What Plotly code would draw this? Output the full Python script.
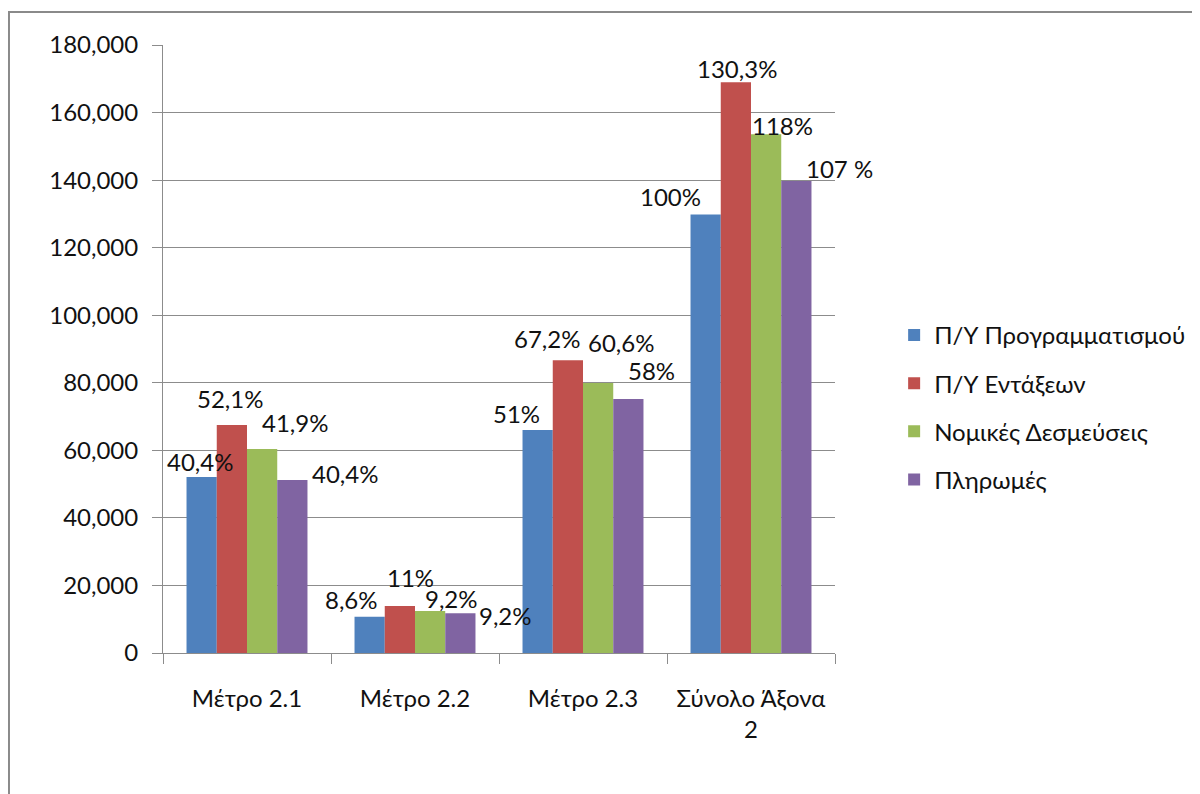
import plotly.graph_objects as go

# categories and series
categories = ["Μέτρο 2.1", "Μέτρο 2.2", "Μέτρο 2.3", "Σύνολο Άξονα<br>2"]
series_names = ["Π/Υ Προγραμματισμού", "Π/Υ Εντάξεων", "Νομικές Δεσμεύσεις", "Πληρωμές"]

py_programmatismou = [52100, 10700, 66000, 129800]
py_entaxeon = [67500, 13900, 86700, 169000]
nomikes_desmefseis = [60400, 12400, 79900, 153600]
pliromes = [51200, 11800, 75200, 139700]

lbl_programmatismou = ["40,4%", "8,6%", "51%", "100%"]
lbl_entaxeon = ["52,1%", "11%", "67,2%", "130,3%"]
lbl_nomikes = ["41,9%", "9,2%", "60,6%", "118%"]
lbl_pliromes = ["40,4%", "9,2%", "58%", "107 %"]

y_ticks = [0, 20000, 40000, 60000, 80000, 100000, 120000, 140000, 160000, 180000]

colors = ["#4F81BD", "#C0504D", "#9BBB59", "#8064A2"]
values = [py_programmatismou, py_entaxeon, nomikes_desmefseis, pliromes]
labels = [lbl_programmatismou, lbl_entaxeon, lbl_nomikes, lbl_pliromes]

# hand placed label nudges (px): [series][category] -> (dx, dy)
nudges = [
    [(-2, 16), (-18, 17), (-21, 17), (-35, 18)],
    [(-2, 27), (11, 29), (-21, 22), (1, 14)],
    [(33, 26), (21, 13), (23, 41), (16, 9)],
    [(53, 7), (45, -2), (23, 28), (43, 13)],
]

FONT = "Lato, 'Noto Sans', sans-serif"
FS = 24
bargap = 0.28

fig = go.Figure()
for name, vals, col in zip(series_names, values, colors):
    fig.add_trace(go.Bar(x=categories, y=vals, name=name, marker_color=col,
                         marker_line_width=0, legendgroup=name))

bw = (1 - bargap) / len(values)
for si, (vals, lbls) in enumerate(zip(values, labels)):
    for ci, (v, t) in enumerate(zip(vals, lbls)):
        dx, dy = nudges[si][ci]
        fig.add_annotation(x=ci + (si - 1.5) * bw, y=v, text=t, showarrow=False,
                           xshift=dx, yshift=dy, xanchor="center", yanchor="middle",
                           font=dict(family=FONT, size=FS, color="#111111"))

# chart border (only left/top visible in the picture)
fig.add_shape(type="rect", xref="paper", yref="paper",
              x0=-0.2292, x1=2, y0=-1, y1=1.0543,
              line=dict(color="#8a8a8a", width=2), layer="below")

fig.update_layout(
    width=1200, height=794,
    margin=dict(l=155, r=373, t=37, b=149),
    paper_bgcolor="white", plot_bgcolor="white",
    barmode="group", bargap=bargap, bargroupgap=0,
    font=dict(family=FONT, size=FS, color="#111111"),
    showlegend=True,
    legend=dict(x=1.088, xanchor="left", y=0.404, yanchor="middle",
                traceorder="grouped", tracegroupgap=14,
                font=dict(family=FONT, size=FS, color="#111111")),
)
fig.update_yaxes(range=[0, 180000], tickvals=y_ticks, tickformat=",",
                 showgrid=True, gridcolor="#8c8c8c", gridwidth=1,
                 showline=True, linecolor="#8c8c8c", linewidth=1,
                 ticks="outside", ticklen=10, tickcolor="#8c8c8c",
                 ticklabelstandoff=9, zeroline=False, automargin=False)
fig.update_xaxes(range=[-0.5, len(categories) - 0.5],
                 showline=True, linecolor="#8c8c8c", linewidth=1,
                 ticks="outside", ticklen=10, tickcolor="#8c8c8c",
                 tickson="boundaries", ticklabelstandoff=24, showgrid=False,
                 tickangle=0, automargin=False)

fig.write_html("out.html")
